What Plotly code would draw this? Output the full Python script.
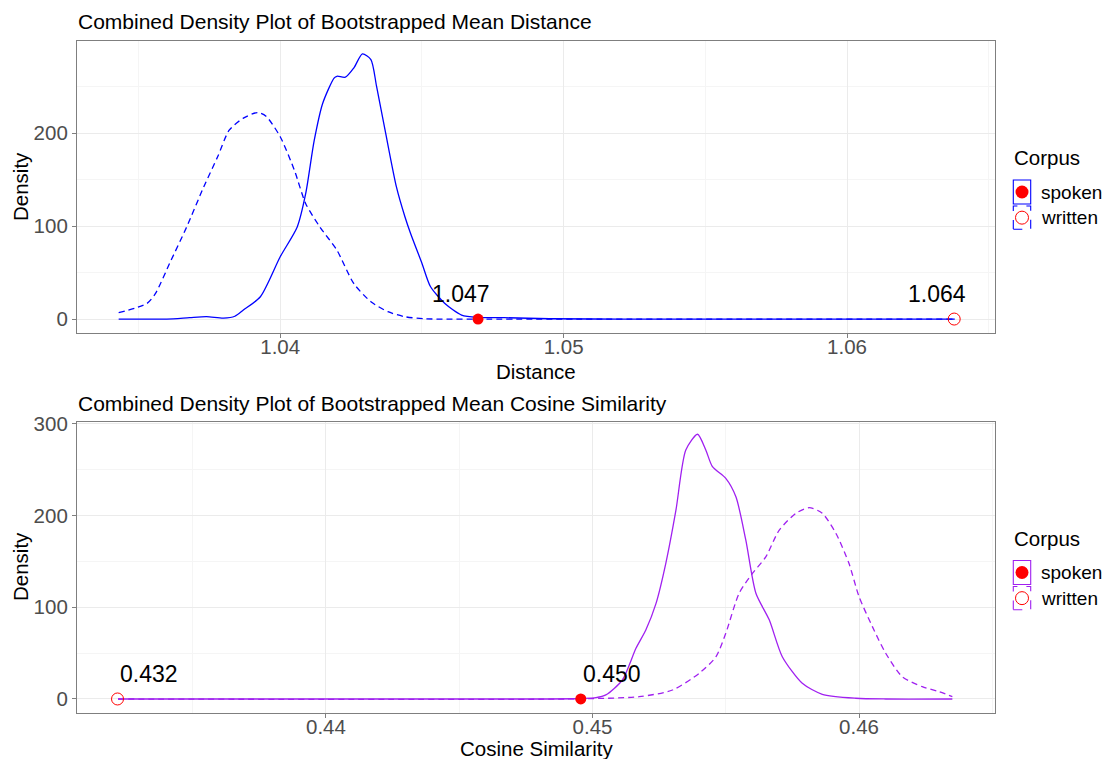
import plotly.graph_objects as go

# ---------------- data ----------------
# Panel 1: bootstrapped mean Distance densities
dist_spoken_x = [1.0343, 1.0360, 1.0368, 1.0374, 1.0380, 1.0384, 1.0387, 1.0393, 1.0400, 1.0406,
                 1.0409, 1.0412, 1.0415, 1.0419, 1.0420, 1.0423, 1.0426, 1.0429, 1.0432, 1.0434,
                 1.0437, 1.0441, 1.0444, 1.0446, 1.0450, 1.0453, 1.0458, 1.0464, 1.0470, 1.0479,
                 1.0495, 1.0520, 1.0638]
dist_spoken_y = [0, 0, 1.5, 2.5, 1.0, 3, 9.7, 24, 67, 99,
                 135, 192, 232, 259, 261, 260, 270, 285, 279, 250,
                 203, 142, 110, 92, 60, 35, 17, 4.3, 1.8, 1.5,
                 0.3, 0, 0]
dist_written_x = [1.0343, 1.0353, 1.0356, 1.0361, 1.0367, 1.0373, 1.0378, 1.0382, 1.0387, 1.0392,
                  1.0395, 1.0400, 1.0405, 1.0409, 1.0414, 1.0420, 1.0426, 1.0432, 1.0438, 1.0444,
                  1.0451, 1.0470, 1.0638]
dist_written_y = [6.8, 16.8, 27.6, 60, 99, 142, 175, 203, 216, 222,
                  218, 196, 160, 124, 99, 74, 38, 18.6, 7.9, 2.5,
                  0.3, 0, 0]

# Panel 2: bootstrapped mean Cosine Similarity densities
cos_spoken_x = [0.4322, 0.4480, 0.4496, 0.45013, 0.4505, 0.45112, 0.45163, 0.4520, 0.45238, 0.45275,
                0.45313, 0.4535, 0.45394, 0.45425, 0.4545, 0.4550, 0.45538, 0.45575, 0.45613, 0.45663,
                0.45712, 0.45787, 0.45862, 0.45988, 0.4610, 0.4635]
cos_spoken_y = [0, 0, 0.5, 1.4, 4.4, 20.7, 55.3, 75.3, 104, 148,
                206, 271.6, 288.8, 271.6, 253.4, 240.7, 220.6, 173.5, 115.3, 86.3,
                46.1, 17.1, 5.1, 0.8, 0, 0]
cos_written_x = [0.4322, 0.4490, 0.45175, 0.4530, 0.4540, 0.45463, 0.4550, 0.4555, 0.4560, 0.4565,
                 0.4570, 0.45763, 0.45813, 0.45862, 0.45913, 0.45962, 0.4600, 0.4605, 0.4610, 0.46162,
                 0.46237, 0.4630, 0.4635]
cos_written_y = [0, 0, 2.5, 9.8, 28, 46, 71.7, 115.3, 137, 155,
                 184, 202.6, 208.7, 202.6, 180.8, 148, 111.6, 78.9, 49.9, 24.3,
                 13.4, 8, 2.5]

# observed values (spoken, written)
corpus = ["spoken", "written"]
obs_distance = [1.04698, 1.06378]
obs_cosine = [0.44956, 0.43218]

BLUE = "#0000FF"
PURPLE = "#A020F0"
RED = "#FF0000"
FONT = "Liberation Sans, Arial, Helvetica, sans-serif"

# ---------------- geometry helpers (page pixel -> paper) ----------------
OFF = 8  # default body margin of the html page
PAGE_W, PAGE_H = 1112, 759
W, H = PAGE_W, PAGE_H - OFF
# desired plot-area edges in page pixels
PL, PR, PT, PB = 77, 995, 41, 713
ML, MR, MT, MB = PL - OFF, (W + OFF) - PR, PT - OFF, PAGE_H - PB
PW = W - ML - MR
PH = H - MT - MB


def pxx(X):
    return (X - PL) / PW


def pxy(Y):
    return (PB - Y) / PH


top_dom = [pxy(333), 1.0]
bot_dom = [0.0, pxy(421.7)]

fig = go.Figure()

# ---------------- traces ----------------
fig.add_trace(go.Scatter(x=dist_written_x, y=dist_written_y, mode="lines",
                         line=dict(color=BLUE, width=1.3, dash="6px,4px", shape="spline", smoothing=0.7),
                         xaxis="x", yaxis="y", showlegend=False, hoverinfo="skip"))
fig.add_trace(go.Scatter(x=dist_spoken_x, y=dist_spoken_y, mode="lines",
                         line=dict(color=BLUE, width=1.3, shape="spline", smoothing=0.7),
                         xaxis="x", yaxis="y", showlegend=False, hoverinfo="skip"))
fig.add_trace(go.Scatter(x=cos_written_x, y=cos_written_y, mode="lines",
                         line=dict(color=PURPLE, width=1.3, dash="6px,4px", shape="spline", smoothing=0.7),
                         xaxis="x2", yaxis="y2", showlegend=False, hoverinfo="skip"))
fig.add_trace(go.Scatter(x=cos_spoken_x, y=cos_spoken_y, mode="lines",
                         line=dict(color=PURPLE, width=1.3, shape="spline", smoothing=0.7),
                         xaxis="x2", yaxis="y2", showlegend=False, hoverinfo="skip"))

# observed points
for vals, xa, ya in [(obs_distance, "x", "y"), (obs_cosine, "x2", "y2")]:
    fig.add_trace(go.Scatter(x=[vals[0]], y=[0], mode="markers",
                             marker=dict(color=RED, size=11, symbol="circle"),
                             xaxis=xa, yaxis=ya, showlegend=False))
    fig.add_trace(go.Scatter(x=[vals[1]], y=[0], mode="markers",
                             marker=dict(color=RED, size=12, symbol="circle-open", line=dict(width=1)),
                             xaxis=xa, yaxis=ya, showlegend=False))

annotations = []
shapes = []

# value labels
for v in obs_distance:
    annotations.append(dict(x=v, y=0, xref="x", yref="y", text=f"{v:.3f}", showarrow=False,
                            xanchor="center", yanchor="middle", xshift=-17, yshift=25,
                            font=dict(family=FONT, size=23, color="black")))
for v in obs_cosine:
    annotations.append(dict(x=v, y=0, xref="x2", yref="y2", text=f"{v:.3f}", showarrow=False,
                            xanchor="center", yanchor="middle", xshift=31, yshift=25,
                            font=dict(family=FONT, size=23, color="black")))

# titles
titles = [("Combined Density Plot of Bootstrapped Mean Distance", 22),
          ("Combined Density Plot of Bootstrapped Mean Cosine Similarity", 403)]
for txt, Y in titles:
    annotations.append(dict(x=pxx(76), y=pxy(Y), xref="paper", yref="paper", text=txt, showarrow=False,
                            xanchor="left", yanchor="middle",
                            font=dict(family=FONT, size=21, color="black")))

# axis titles
for txt, Y in [("Distance", 371), ("Cosine Similarity", 748)]:
    annotations.append(dict(x=0.5, y=pxy(Y), xref="paper", yref="paper", text=txt, showarrow=False,
                            xanchor="center", yanchor="middle",
                            font=dict(family=FONT, size=20.5, color="black")))
for Y in [187, 567]:
    annotations.append(dict(x=pxx(20), y=pxy(Y), xref="paper", yref="paper", text="Density",
                            showarrow=False, textangle=-90, xanchor="center", yanchor="middle",
                            font=dict(family=FONT, size=20.5, color="black")))

# manual legends
for off, col in [(0, BLUE), (380.5, PURPLE)]:
    annotations.append(dict(x=pxx(1012), y=pxy(157.5 + off), xref="paper", yref="paper", text="Corpus",
                            showarrow=False, xanchor="left", yanchor="middle",
                            font=dict(family=FONT, size=20.5, color="black")))
    for i, (name, y0, y1, dash) in enumerate([("spoken", 180, 204, "solid"), ("written", 206, 229.3, "dash")]):
        shapes.append(dict(type="rect", xref="paper", yref="paper",
                           x0=pxx(1013.3), x1=pxx(1030.7), y0=pxy(y1 + off), y1=pxy(y0 + off),
                           line=dict(color=col, width=1.1, dash=dash), fillcolor="rgba(0,0,0,0)"))
        cy = (y0 + y1) / 2 + off
        r = 6.5
        if i == 0:
            shapes.append(dict(type="circle", xref="paper", yref="paper",
                               x0=pxx(1022 - r), x1=pxx(1022 + r), y0=pxy(cy + r), y1=pxy(cy - r),
                               line=dict(color=RED, width=0), fillcolor=RED))
        else:
            shapes.append(dict(type="circle", xref="paper", yref="paper",
                               x0=pxx(1022 - r), x1=pxx(1022 + r), y0=pxy(cy + r), y1=pxy(cy - r),
                               line=dict(color=RED, width=1), fillcolor="rgba(0,0,0,0)"))
        annotations.append(dict(x=pxx(1039), y=pxy(cy), xref="paper", yref="paper", text=name,
                                showarrow=False, xanchor="left", yanchor="middle",
                                font=dict(family=FONT, size=19, color="black")))

GRID = "#EBEBEB"
MINOR = "#F5F5F5"
BORDER = "#7F7F7F"
TICKF = dict(family=FONT, size=20.5, color="#4D4D4D")

common_x = dict(showline=True, mirror=True, linecolor=BORDER, linewidth=1.2, ticks="outside",
                ticklen=4, tickcolor=BORDER, tickfont=TICKF, showgrid=True, gridcolor=GRID,
                gridwidth=1, zeroline=False, tickmode="linear", dtick=0.01, ticklabelstandoff=-9,
                minor=dict(showgrid=True, gridcolor=MINOR, gridwidth=1, dtick=0.005, ticks=""))
common_y = dict(showline=True, mirror=True, linecolor=BORDER, linewidth=1.2, ticks="outside",
                ticklen=4, tickcolor=BORDER, tickfont=TICKF, showgrid=True, gridcolor=GRID,
                gridwidth=1, zeroline=False, tickmode="linear", tick0=0, dtick=100,
                minor=dict(showgrid=True, gridcolor=MINOR, gridwidth=1, dtick=50, ticks=""))

fig.update_layout(
    width=W, height=H,
    margin=dict(l=ML, r=MR, t=MT, b=MB),
    paper_bgcolor="white", plot_bgcolor="white",
    showlegend=False,
    xaxis=dict(common_x, domain=[0, 1], anchor="y", range=[1.03283, 1.06522], tick0=1.04),
    yaxis=dict(common_y, domain=top_dom, anchor="x", range=[-15.0, 298.9]),
    xaxis2=dict(common_x, domain=[0, 1], anchor="y2", range=[0.43066, 0.4651], tick0=0.44),
    yaxis2=dict(common_y, domain=bot_dom, anchor="x2", range=[-15.3, 302.5]),
    annotations=annotations,
    shapes=shapes,
    font=dict(family=FONT),
)

fig.write_html("out.html",
               post_script="document.documentElement.style.overflow='hidden';"
                           "document.body.style.overflow='hidden';")
